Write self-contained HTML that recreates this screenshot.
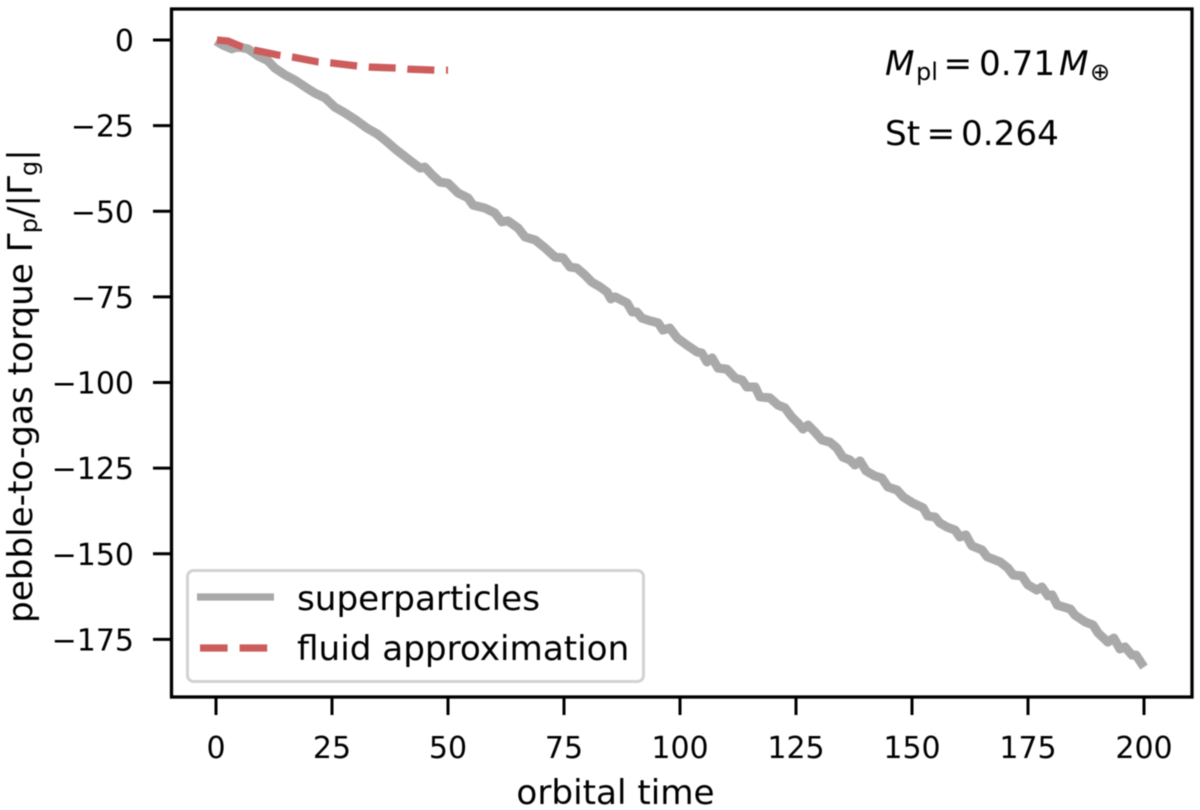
<!DOCTYPE html>
<html lang="en">
<head>
<meta charset="utf-8">
<title>Pebble-to-gas torque</title>
<style>
html,body{margin:0;padding:0;background:#fff;}
body{width:1200px;height:810px;overflow:hidden;}
svg{display:block;filter:blur(0.5px);}
text{font-family:"DejaVu Sans",sans-serif;fill:#000;font-size:34.2px;}
</style>
</head>
<body>
<svg id="chart" xmlns="http://www.w3.org/2000/svg" width="1200" height="810" viewBox="0 0 1200 810">
  <rect x="171.5" y="9" width="1020" height="688" fill="#fff"/>
  <g id="series"></g>
  <rect x="171.5" y="9" width="1020.5" height="688" fill="none" stroke="#000" stroke-width="3.3"/>
  <g id="ticks"></g>
  <text x="615.5" y="804" text-anchor="middle">orbital time</text>
  <text transform="translate(32,623) rotate(-90)">pebble-to-gas torque Γ<tspan style="font-size:24px" dy="5">p</tspan><tspan dy="-5">/|Γ</tspan><tspan style="font-size:24px" dy="5">g</tspan><tspan dy="-5">|</tspan></text>

  <g>
    <text x="885" y="75" font-style="italic">M</text>
    <text x="916" y="80" style="font-size:24px">pl</text>
    <text x="943.5" y="75">=</text>
    <text x="979" y="75">0.71</text>
    <text x="1059" y="75" font-style="italic">M</text>
    <text x="1090" y="80" style="font-size:24px">⊕</text>
  </g>
  <g>
    <text x="885" y="145">St</text>
    <text x="926.5" y="145">=</text>
    <text x="961" y="145">0.264</text>
  </g>

  <g>
    <rect x="187.5" y="570.5" width="456" height="111" rx="6" ry="6" fill="#fff" fill-opacity="0.85" stroke="#d2d2d2" stroke-width="3"/>
    <line x1="197" y1="597" x2="274" y2="597" stroke="#a9a9a9" stroke-width="7.3"/>
    <text x="297" y="610">superparticles</text>
    <line x1="200" y1="648" x2="268" y2="648" stroke="#cd5c5c" stroke-width="7.3" stroke-dasharray="27.6 12"/>
    <text x="297" y="660">fluid approximation</text>
  </g>
</svg>
<script>
const xTicks = [0, 25, 50, 75, 100, 125, 150, 175, 200];
const yTicks = [0, -25, -50, -75, -100, -125, -150, -175];

const superTime = [0,1.5,3.4,4.7,6.9,9.1,11.2,12.7,14.9,17.0,19.2,21.3,23.5,25.6,27.8,30.4,32.5,34.7,36.4,38.6,40.3,42.2,44.0,45.0,46.6,48.3,50.0,52.2,54.3,55.4,58.0,60.1,61.6,62.9,65.1,66.6,68.8,70.9,73.1,74.8,76.3,77.8,79.5,81.0,82.8,84.3,85.1,86.0,88.6,89.7,90.7,91.8,93.1,95.3,96.3,97.8,99.4,101.5,103.7,104.7,105.8,106.9,108.2,110.1,111.9,113.4,114.4,116.2,117.2,119.4,121.1,122.6,124.1,125.4,126.5,127.6,129.1,130.6,132.3,133.8,135.1,136.6,137.7,138.8,140.1,142.0,143.5,144.8,146.8,148.1,150.2,152.4,153.4,155.0,156.0,157.5,159.3,160.3,161.6,162.9,165.1,166.2,169.0,170.7,171.8,173.7,175.0,176.9,178.0,179.3,180.2,181.3,184.1,185.1,187.3,189.0,190.1,192.2,193.5,194.8,195.9,197.4,198.3,200];
const superTorque = [-0.3,-1.5,-2.6,-2.0,-2.6,-4.7,-6.1,-8.2,-10.2,-11.7,-13.7,-15.5,-16.9,-19.6,-21.3,-23.6,-25.7,-27.4,-29.2,-31.8,-33.6,-35.6,-37.4,-37.1,-39.4,-41.5,-41.8,-44.7,-46.1,-48.2,-49.1,-50.5,-53.1,-52.8,-54.9,-57.5,-58.4,-60.7,-63.4,-63.6,-66.3,-66.6,-68.6,-70.7,-72.1,-73.6,-75.6,-75.0,-76.8,-79.4,-79.4,-81.2,-81.8,-82.6,-84.7,-84.1,-87.0,-89.1,-91.1,-91.4,-94.0,-92.8,-95.8,-96.1,-98.7,-99.3,-101.3,-101.3,-104.2,-104.5,-106.6,-107.4,-110.1,-111.8,-113.6,-112.4,-114.5,-116.8,-117.4,-119.1,-121.8,-122.6,-124.1,-122.9,-125.8,-127.3,-127.9,-130.5,-131.4,-133.4,-135.2,-136.6,-139.0,-139.3,-141.0,-142.2,-143.1,-145.1,-144.5,-147.7,-148.9,-150.9,-152.4,-154.2,-156.2,-156.5,-159.1,-160.6,-159.7,-162.3,-162.0,-165.0,-166.1,-167.9,-169.9,-170.8,-173.1,-175.8,-174.6,-177.8,-177.2,-179.6,-179.6,-183.1];

const fluidTime = [0.2,2.6,5.6,8,13.4,16.6,22,25,30.4,33.2,39,41.4,47.2,50];
const fluidTorque = [0,-0.3,-2.0,-2.9,-4.4,-5.0,-6.4,-6.7,-7.6,-7.9,-8.2,-8.5,-8.8,-8.8];

const NS = 'http://www.w3.org/2000/svg';
function xScale(t) { return 216 + t * 4.64; }
function yScale(v) { return 40 - v * 3.425; }
function linePath(ts, vs) {
  return ts.map(function (t, i) {
    return (i ? 'L' : 'M') + xScale(t).toFixed(2) + ' ' + yScale(vs[i]).toFixed(2);
  }).join(' ');
}
function make(tag, parent) {
  const el = document.createElementNS(NS, tag);
  parent.appendChild(el);
  return el;
}

const seriesGroup = document.getElementById('series');
const tickGroup = document.getElementById('ticks');

const superLine = make('path', seriesGroup);


superLine.setAttribute('d', linePath(superTime, superTorque));
superLine.setAttribute('fill', 'none');
superLine.setAttribute('stroke', '#a9a9a9');
superLine.setAttribute('stroke-width', '9');
superLine.setAttribute('stroke-linejoin', 'round');

const fluidLine = make('path', seriesGroup);


fluidLine.setAttribute('d', linePath(fluidTime, fluidTorque));
fluidLine.setAttribute('fill', 'none');
fluidLine.setAttribute('stroke', '#cd5c5c');
fluidLine.setAttribute('stroke-width', '7.3');
fluidLine.setAttribute('stroke-dasharray', '27 11.7');

xTicks.forEach(function (value) {
  const tick = make('line', tickGroup);
  
  
  tick.setAttribute('x1', xScale(value));
  tick.setAttribute('x2', xScale(value));
  tick.setAttribute('y1', 697);
  tick.setAttribute('y2', 715);
  tick.setAttribute('stroke', '#000');
  tick.setAttribute('stroke-width', '3');
  const label = make('text', tickGroup);
  
  
  label.setAttribute('x', xScale(value));
  label.setAttribute('y', 758);
  label.setAttribute('text-anchor', 'middle');
  label.style.fontSize = '30px';
  label.textContent = String(value);
});

yTicks.forEach(function (value) {
  const tick = make('line', tickGroup);
  
  
  tick.setAttribute('x1', 153);
  tick.setAttribute('x2', 171.5);
  tick.setAttribute('y1', yScale(value));
  tick.setAttribute('y2', yScale(value));
  tick.setAttribute('stroke', '#000');
  tick.setAttribute('stroke-width', '3');
  const label = make('text', tickGroup);
  
  
  label.setAttribute('x', 134);
  label.setAttribute('y', yScale(value) + 11);
  label.setAttribute('text-anchor', 'end');
  label.style.fontSize = '30px';
  label.textContent = (value < 0 ? '\u2212' : '') + Math.abs(value);
});
</script>
</body>
</html>
